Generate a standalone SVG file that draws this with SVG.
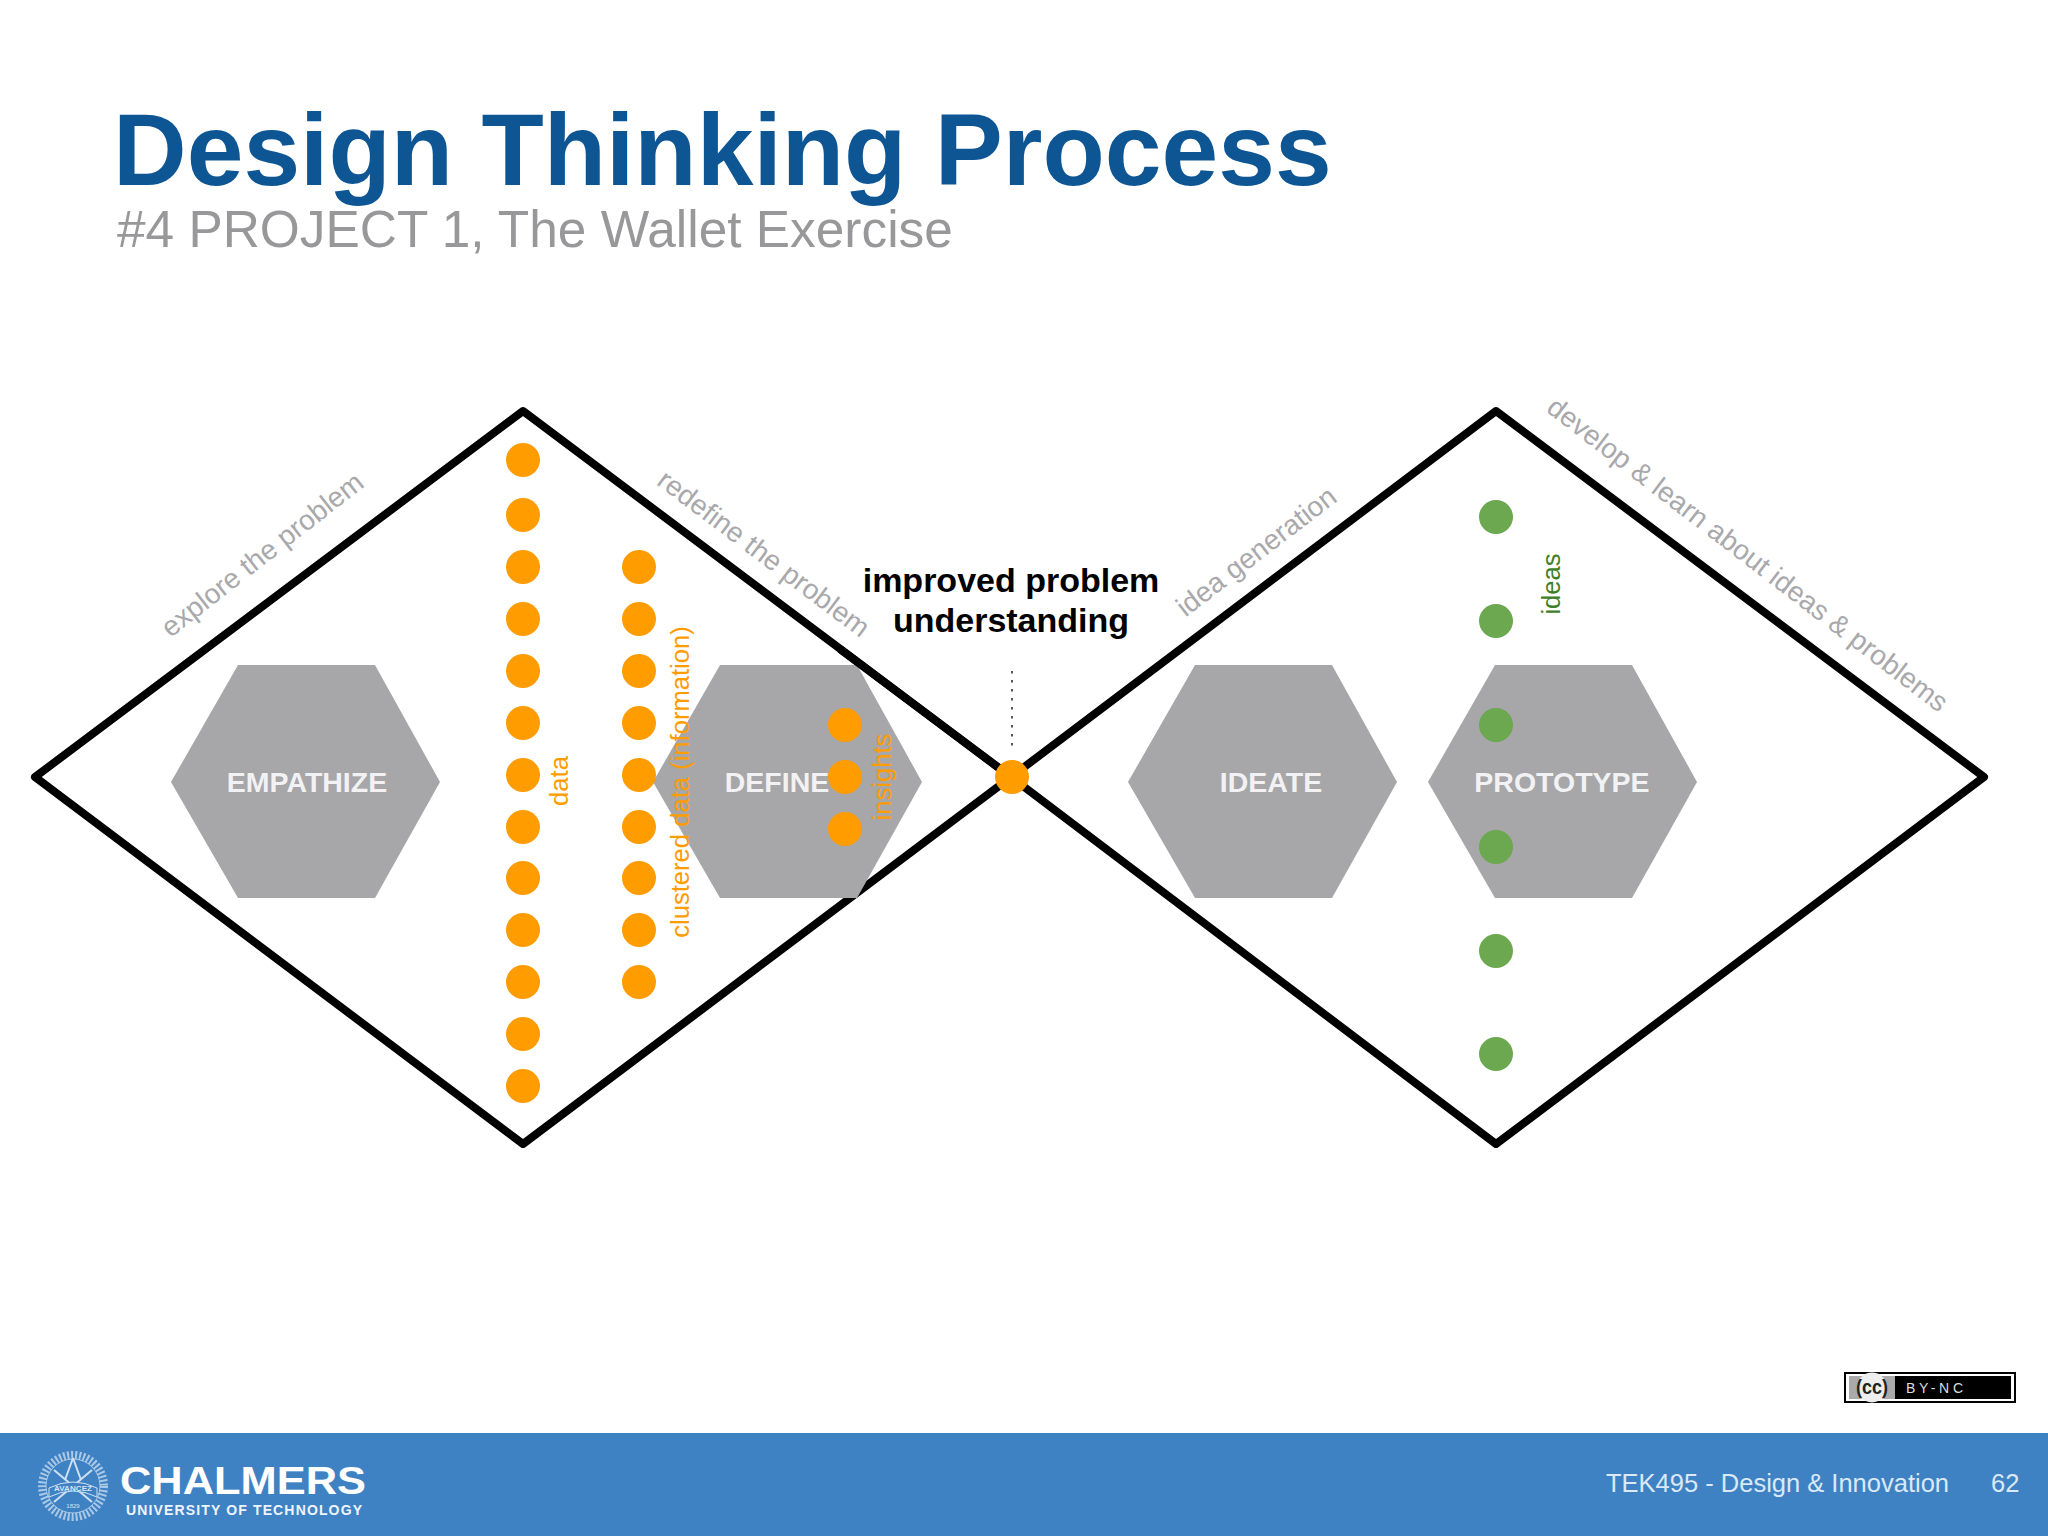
<svg xmlns="http://www.w3.org/2000/svg" width="2048" height="1536" viewBox="0 0 2048 1536">
<style>
text{font-family:"Liberation Sans",Arial,sans-serif}
.hex{fill:#a7a6a8}
.hl{fill:#f2f2f4;font-weight:700;font-size:28.500px;text-anchor:middle}
.d{fill:none;stroke:#000;stroke-width:8;stroke-linejoin:round}
.o{fill:#ff9c00}
.g{fill:#6ba84f}
.lab{fill:#a9a8ab;font-size:28px;text-anchor:middle}
.ol{fill:#ff9c00;font-size:25.600px;text-anchor:middle}
.seal{fill:none;stroke:#cfe0f1}
</style>
<defs><polygon id="hx" points="0,117 67,0 204,0 269,117 204,233 67,233" class="hex"/></defs>
<rect width="2048" height="1536" fill="#fff"/>
<text id="title" x="113" y="185" font-size="102" font-weight="700" fill="#0e5594">Design Thinking Process</text>
<text id="subtitle" x="117" y="247" font-size="51.400" fill="#98979a">#4 PROJECT 1, The Wallet Exercise</text>
<g id="connectors">
<polygon class="d" points="35,777 523,411 1011,777 523,1144"/>
<polygon class="d" points="1011,777 1496,411 1984,777 1496,1144"/>
<line x1="1012" y1="671" x2="1012" y2="752" stroke="#555" stroke-width="2" stroke-dasharray="2.500 6.500"/>
</g>
<g id="empathize"><use href="#hx" x="171" y="665"/><text class="hl" x="307" y="792">EMPATHIZE</text></g>
<g id="define"><use href="#hx" x="653" y="665"/><text class="hl" x="777" y="792">DEFINE</text></g>
<g id="ideate"><use href="#hx" x="1128" y="665"/><text class="hl" x="1271" y="792">IDEATE</text></g>
<g id="prototype"><use href="#hx" x="1428" y="665"/><text class="hl" x="1562" y="792">PROTOTYPE</text></g>
<line id="define-overlap" x1="840" y1="649" x2="1011" y2="777" stroke="#000" stroke-width="8"/>
<g id="data-dots" class="o">
<circle cx="523" cy="460" r="17"/><circle cx="523" cy="515" r="17"/><circle cx="523" cy="567" r="17"/><circle cx="523" cy="619" r="17"/><circle cx="523" cy="671" r="17"/><circle cx="523" cy="723" r="17"/><circle cx="523" cy="775" r="17"/><circle cx="523" cy="827" r="17"/><circle cx="523" cy="878" r="17"/><circle cx="523" cy="930" r="17"/><circle cx="523" cy="982" r="17"/><circle cx="523" cy="1034" r="17"/><circle cx="523" cy="1086" r="17"/>
</g>
<g id="cluster-dots" class="o">
<circle cx="639" cy="567" r="17"/><circle cx="639" cy="619" r="17"/><circle cx="639" cy="671" r="17"/><circle cx="639" cy="723" r="17"/><circle cx="639" cy="775" r="17"/><circle cx="639" cy="827" r="17"/><circle cx="639" cy="878" r="17"/><circle cx="639" cy="930" r="17"/><circle cx="639" cy="982" r="17"/>
</g>
<g id="insight-dots" class="o">
<circle cx="845" cy="725" r="17"/><circle cx="845" cy="777" r="17"/><circle cx="845" cy="829" r="17"/>
</g>
<circle id="center-dot" class="o" cx="1012" cy="777" r="17"/>
<g id="idea-dots" class="g">
<circle cx="1496" cy="517" r="17"/><circle cx="1496" cy="621" r="17"/><circle cx="1496" cy="725" r="17"/><circle cx="1496" cy="847" r="17"/><circle cx="1496" cy="951" r="17"/><circle cx="1496" cy="1054" r="17"/>
</g>
<g id="labels">
<text class="lab" transform="translate(268,562) rotate(-38)">explore the problem</text>
<text class="lab" transform="translate(758,561) rotate(37)">redefine the problem</text>
<text class="lab" transform="translate(1262,559) rotate(-37.500)">idea generation</text>
<text class="lab" transform="translate(1742,562) rotate(37.500)">develop &amp; learn about ideas &amp; problems</text>
<text class="ol" transform="translate(568,781) rotate(-90)">data</text>
<text class="ol" transform="translate(689,782) rotate(-90)">clustered data (information)</text>
<text class="ol" transform="translate(891,777) rotate(-90)">insights</text>
<text transform="translate(1560,584) rotate(-90)" font-size="25.600" fill="#3f7f2a" text-anchor="middle">ideas</text>
<text x="1011" y="592" font-size="34" font-weight="700" text-anchor="middle" fill="#000">improved problem</text>
<text x="1011" y="632" font-size="34" font-weight="700" text-anchor="middle" fill="#000">understanding</text>
</g>
<g id="cc-badge">
<rect x="1845" y="1373" width="170" height="29" fill="#fff" stroke="#000" stroke-width="2"/>
<rect x="1849" y="1376" width="162" height="23" fill="#000"/>
<rect x="1849" y="1376" width="46" height="23" fill="#aaa"/>
<circle cx="1872" cy="1387.500" r="15" fill="#eee"/>
<text x="1872" y="1394" font-size="20" font-weight="700" text-anchor="middle" fill="#222" textLength="32" lengthAdjust="spacingAndGlyphs">(cc)</text>
<text x="1906" y="1393" font-size="14" fill="#ddd" textLength="57" lengthAdjust="spacing">BY-NC</text>
</g>
<g id="footer">
<rect y="1433" width="2048" height="103" fill="#3e82c4"/>
<g id="seal" class="seal">
<circle cx="73" cy="1486" r="27" stroke-width="1" opacity=".7"/>
<circle cx="73" cy="1486" r="31" stroke-width="8" stroke-dasharray="2 2" opacity=".75"/>
<path d="M54 1502 L92 1470 M92 1502 L54 1470 M73 1458 L65 1480 M73 1458 L81 1480" stroke-width="2"/>
<path d="M49 1488 Q73 1476 97 1488 L97 1497 Q73 1485 49 1497 Z" fill="#3e82c4" stroke-width="1"/>
<text x="73" y="1491" font-size="8" font-weight="700" fill="#d5e4f3" stroke="none" text-anchor="middle" textLength="38">AVANCEZ</text>
<text x="73" y="1508" font-size="6" fill="#d5e4f3" stroke="none" text-anchor="middle">1829</text>
</g>
<text x="120" y="1494" font-size="38" font-weight="700" fill="#fff" textLength="246" lengthAdjust="spacingAndGlyphs">CHALMERS</text>
<text x="126" y="1515" font-size="14" font-weight="700" fill="#eef4fb" textLength="236" lengthAdjust="spacing">UNIVERSITY OF TECHNOLOGY</text>
<text x="1606" y="1492" font-size="25.500" fill="#dbe9f6">TEK495 - Design &amp; Innovation</text>
<text x="1991" y="1492" font-size="25.500" fill="#dbe9f6">62</text>
</g>
</svg>
